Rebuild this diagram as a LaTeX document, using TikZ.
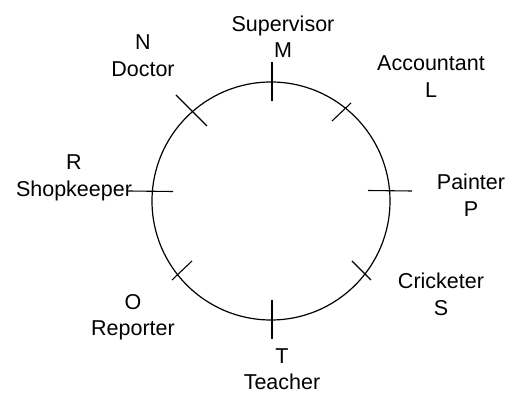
\documentclass[tikz,border=0pt]{standalone}
\usepackage{fontspec}
\setmainfont{Liberation Sans}
\begin{document}
\begin{tikzpicture}[x=1pt,y=-1pt,
  lbl/.style={align=center,inner sep=0pt,font=\fontsize{21.5}{26.5}\selectfont},
  tick/.style={line width=1.1pt},
  bigtick/.style={line width=2pt},
  ring/.style={line width=1.2pt}]
\useasboundingbox (0,0) rectangle (515,395);
\node[circle,minimum size=238pt,inner sep=0pt,ring,draw] (c) at (271,201) {};
% ticks
\coordinate (m1) at (272,62);  \coordinate (m2) at (272,101);
\coordinate (t1) at (272,300); \coordinate (t2) at (272,339);
\coordinate (r1) at (128,191); \coordinate (r2) at (173,191.5);
\coordinate (p1) at (368,190.5); \coordinate (p2) at (412,191);
\coordinate (n1) at (176,95);  \coordinate (n2) at (207,126);
\coordinate (l1) at (351,103); \coordinate (l2) at (332,121);
\coordinate (s1) at (352,261); \coordinate (s2) at (371,280);
\coordinate (o1) at (192,261); \coordinate (o2) at (172,280);
\draw[bigtick] (m1) -- (m2);
\draw[bigtick] (t1) -- (t2);
\draw[tick] (r1) -- (r2);
\draw[tick] (p1) -- (p2);
\draw[tick] (n1) -- (n2);
\draw[tick] (l1) -- (l2);
\draw[tick] (s1) -- (s2);
\draw[tick] (o1) -- (o2);
% labels
\node[lbl] (sup) at (283,36.5) {Supervisor\\M};
\node[lbl] (acc) at (431,76.5) {Accountant\\L};
\node[lbl] (pai) at (471,195) {Painter\\P};
\node[lbl] (cri) at (441,294.5) {Cricketer\\S};
\node[lbl] (tea) at (282,369) {T\\Teacher};
\node[lbl] (rep) at (133,317) {O\\Reporter};
\node[lbl] (sho) at (74,178) {R\\Shopkeeper};
\node[lbl] (doc) at (143,55.5) {N\\Doctor};
\end{tikzpicture}
\end{document}
